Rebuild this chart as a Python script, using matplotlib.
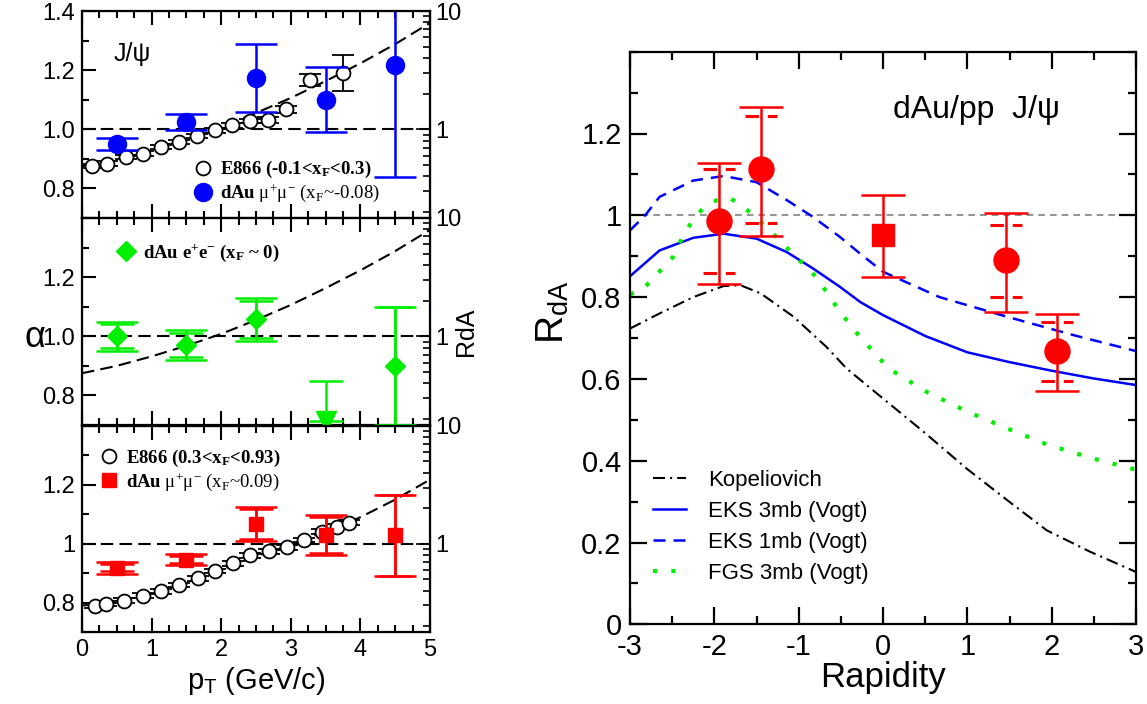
import numpy as np
import matplotlib
matplotlib.use("Agg")
import matplotlib.pyplot as plt
from matplotlib.ticker import MultipleLocator, FixedLocator, FixedFormatter, FuncFormatter, LogLocator, NullFormatter
from matplotlib.lines import Line2D

plt.rcParams["font.family"] = ["Liberation Sans", "DejaVu Sans"]
plt.rcParams["mathtext.fontset"] = "custom"
plt.rcParams["mathtext.rm"] = "Liberation Serif"
plt.rcParams["mathtext.bf"] = "Liberation Serif:bold"
plt.rcParams["mathtext.it"] = "Liberation Serif:italic"
plt.rcParams["mathtext.sf"] = "Liberation Sans"

# --- alpha vs pT, backward / mid rapidity (E866 -0.1<xF<0.3, dAu mu+mu-) ---
pt_e866_lo = [0.15, 0.36, 0.63, 0.88, 1.13, 1.39, 1.65, 1.91, 2.16, 2.41, 2.67, 2.93, 3.28, 3.75]
alpha_e866_lo = [0.876, 0.884, 0.906, 0.918, 0.940, 0.957, 0.977, 0.997, 1.014, 1.028, 1.031, 1.068, 1.166, 1.190]
err_e866_lo = [0.008, 0.008, 0.008, 0.008, 0.008, 0.008, 0.008, 0.008, 0.008, 0.008, 0.010, 0.012, 0.020, 0.060]

pt_dau = [0.5, 1.5, 2.5, 3.5, 4.5]
alpha_mumu_bwd = [0.951, 1.025, 1.172, 1.100, 1.217]
err_mumu_bwd = [0.020, 0.026, 0.115, 0.109, 0.379]

# curve drawn through the E866 points (same in top and middle panels)
pt_curve = [0.0, 0.5, 1.0, 1.5, 2.0, 2.5, 3.0, 3.5, 4.0, 4.5, 5.0]
alpha_curve_lo = [0.875, 0.900, 0.932, 0.968, 1.008, 1.055, 1.106, 1.163, 1.223, 1.288, 1.360]

# --- alpha vs pT, dAu e+e- at xF ~ 0 ---
pt_ee = [0.5, 1.5, 2.5, 4.5]
alpha_ee = [1.000, 0.970, 1.057, 0.900]
sys_ee = [0.050, 0.050, 0.072, 0.200]
stat_ee = [0.040, 0.040, 0.062, 0.200]
pt_ee_limit = [3.5]
alpha_ee_limit = [0.715]
top_ee_limit = [0.850]

# --- alpha vs pT, forward (E866 0.3<xF<0.93, dAu mu+mu- xF~0.09) ---
pt_e866_hi = [0.18, 0.34, 0.60, 0.87, 1.13, 1.39, 1.66, 1.91, 2.17, 2.42, 2.68, 2.94, 3.19, 3.45, 3.67, 3.83]
alpha_e866_hi = [0.790, 0.796, 0.807, 0.823, 0.838, 0.860, 0.882, 0.907, 0.933, 0.961, 0.974, 0.988, 1.013, 1.041, 1.058, 1.072]
err_e866_hi = [0.008] * 16
alpha_curve_hi = [0.790, 0.800, 0.828, 0.866, 0.912, 0.957, 0.997, 1.042, 1.090, 1.150, 1.218]

alpha_mumu_fwd = [0.918, 0.946, 1.067, 1.030, 1.028]
sys_mumu_fwd = [0.020, 0.020, 0.058, 0.068, 0.138]
stat_mumu_fwd = [0.012, 0.012, 0.050, 0.060, 0.138]

# --- R_dA vs rapidity ---
rap_data = [-1.94, -1.45, 0.0, 1.455, 2.06]
rda_data = [0.986, 1.112, 0.951, 0.890, 0.668]
sys_lo = [0.155, 0.163, 0.102, 0.126, 0.098]
sys_hi = [0.143, 0.153, 0.099, 0.116, 0.090]
stat_lo = [0.128, 0.132, np.nan, 0.090, 0.074]
stat_hi = [0.128, 0.132, np.nan, 0.087, 0.070]
is_square = [False, False, True, False, False]

rap_kop = [-3.0, -2.65, -2.25, -1.89, -1.69, -1.45, -1.06, -0.67, -0.43, 0.0, 0.48, 0.99, 1.47, 1.94, 2.46, 3.0]
rda_kop = [0.723, 0.760, 0.800, 0.827, 0.829, 0.809, 0.752, 0.678, 0.625, 0.552, 0.471, 0.381, 0.304, 0.230, 0.177, 0.128]

rap_eks3 = [-3.0, -2.65, -2.25, -1.89, -1.50, -1.14, -0.83, -0.51, -0.27, 0.0, 0.5, 1.0, 1.5, 2.0, 2.5, 3.0]
rda_eks3 = [0.851, 0.914, 0.945, 0.955, 0.943, 0.910, 0.870, 0.825, 0.788, 0.756, 0.705, 0.665, 0.641, 0.620, 0.601, 0.585]

rap_eks1 = [-3.0, -2.82, -2.65, -2.25, -1.89, -1.50, -1.14, -0.83, -0.51, -0.27, 0.0, 0.67, 1.47, 2.26, 3.0]
rda_eks1 = [0.963, 1.000, 1.045, 1.085, 1.096, 1.081, 1.037, 0.996, 0.947, 0.906, 0.862, 0.800, 0.752, 0.707, 0.668]

rap_fgs = [-3.0, -2.82, -2.49, -2.34, -2.13, -1.97, -1.81, -1.68, -1.54, -1.30, -1.04, -0.79, -0.51, -0.29, 0.07, 0.52, 0.99, 1.47, 1.94, 2.46, 3.0]
rda_fgs = [0.806, 0.825, 0.898, 0.963, 1.019, 1.037, 1.042, 1.023, 1.002, 0.954, 0.900, 0.849, 0.764, 0.707, 0.625, 0.568, 0.521, 0.479, 0.440, 0.407, 0.378]

BLUE, GREEN, RED = "#0000ff", "#00ee00", "#ff0000"
DASH = (0, (6, 3))
LEG_FONT = {"family": "Liberation Serif", "size": 13.5}

fig = plt.figure(figsize=(11.47, 7.04), dpi=100)


def alpha_panel(rect, labels, show_x=False):
    ax = fig.add_axes(rect)
    ax.set_xlim(0, 5)
    ax.set_ylim(0.7, 1.4)
    ax.xaxis.set_major_locator(MultipleLocator(1))
    ax.xaxis.set_minor_locator(MultipleLocator(0.25))
    ax.yaxis.set_major_locator(FixedLocator([0.8, 1.0, 1.2, 1.4]))
    ax.yaxis.set_major_formatter(FixedFormatter(labels))
    ax.yaxis.set_minor_locator(MultipleLocator(0.1))
    ax.tick_params(which="both", direction="in", top=True, right=True, width=1.5,
                   labelsize=17, labelbottom=show_x)
    ax.tick_params(which="major", length=10, pad=5)
    ax.tick_params(which="minor", length=5)
    for s in ax.spines.values():
        s.set_linewidth(1.6)
    ax.axhline(1.0, color="k", ls=DASH, lw=1.5, zorder=1)

    rd = ax.twinx()
    rd.set_yscale("log")
    rd.set_ylim(10 ** -0.75, 10)
    rd.yaxis.set_major_locator(FixedLocator([1, 10]))
    rd.yaxis.set_major_formatter(FuncFormatter(lambda v, p: "%g" % v))
    rd.yaxis.set_minor_locator(LogLocator(subs=np.arange(2, 10)))
    rd.yaxis.set_minor_formatter(NullFormatter())
    rd.tick_params(which="both", direction="in", width=1.2, labelsize=17)
    rd.tick_params(which="major", length=10, pad=4)
    rd.tick_params(which="minor", length=5)
    return ax


h = 207 / 704
ax1 = alpha_panel([0.0715, 1 - 218 / 704, 0.3034, h], ["0.8", "1.0", "1.2", "1.4"])
ax2 = alpha_panel([0.0715, 1 - 425 / 704, 0.3034, h], ["0.8", "1.0", "1.2", ""])
ax3 = alpha_panel([0.0715, 1 - 632 / 704, 0.3034, 206 / 704], ["0.8", "1", "1.2", ""], show_x=True)

# top panel
ax1.plot(pt_curve, alpha_curve_lo, color="k", ls=DASH, lw=1.5, zorder=2)
ax1.errorbar(pt_e866_lo, alpha_e866_lo, yerr=err_e866_lo, fmt="o", ms=10, mfc="white",
             mec="k", mew=1.3, ecolor="k", elinewidth=1.3, capsize=8, capthick=1.3, zorder=3)
ax1.errorbar(pt_dau, alpha_mumu_bwd, yerr=err_mumu_bwd, fmt="o", ms=13, color=BLUE,
             elinewidth=1.8, capsize=15, capthick=1.8, zorder=4)
ax1.text(0.45, 1.255, "J/ψ", fontsize=18, va="center")
ax1.legend(handles=[
    Line2D([], [], ls="none", marker="o", ms=10, mfc="white", mec="k", mew=1.3),
    Line2D([], [], ls="none", marker="o", ms=13, color=BLUE)],
    labels=[r"E866 (-0.1<x$_\mathbf{F}$<0.3)",
            r"$\mathbf{dAu}\ \mathrm{\mu}^{+}\mathrm{\mu}^{-}$ (x$_\mathrm{F}$~-0.08)"],
    loc="center left", bbox_to_anchor=(0.32, 0.175), frameon=False, handlelength=1.0,
    handletextpad=0.4, labelspacing=0.1, borderpad=0, borderaxespad=0, prop=LEG_FONT)
ax1.get_legend().get_texts()[0].set_fontweight("bold")

# middle panel
ax2.plot(pt_curve, alpha_curve_lo, color="k", ls=DASH, lw=1.5, zorder=2)
ax2.errorbar(pt_ee, alpha_ee, yerr=sys_ee, fmt="D", ms=10, color=GREEN,
             elinewidth=1.8, capsize=15, capthick=1.8, zorder=4)
ax2.errorbar(pt_ee, alpha_ee, yerr=stat_ee, fmt="none", ecolor=GREEN,
             elinewidth=1.8, capsize=12, capthick=1.8, zorder=4)
ax2.errorbar(pt_ee_limit, alpha_ee_limit,
             yerr=[[0], np.subtract(top_ee_limit, alpha_ee_limit)], fmt="v", ms=14,
             color=GREEN, elinewidth=1.8, capsize=12, capthick=1.8, zorder=4)
ax2.legend(handles=[Line2D([], [], ls="none", marker="D", ms=10, color=GREEN)],
           labels=[r"dAu e$^{\mathbf{+}}$e$^{\mathbf{-}}$ (x$_\mathbf{F}$ ~ 0)"],
           loc="center left", bbox_to_anchor=(0.1, 0.83), frameon=False, handlelength=1.0,
           handletextpad=0.4, borderpad=0, borderaxespad=0,
           prop=dict(LEG_FONT, weight="bold"))

# bottom panel
ax3.plot(pt_curve, alpha_curve_hi, color="k", ls=DASH, lw=1.5, zorder=2)
ax3.errorbar(pt_e866_hi, alpha_e866_hi, yerr=err_e866_hi, fmt="o", ms=10, mfc="white",
             mec="k", mew=1.3, ecolor="k", elinewidth=1.3, capsize=8, capthick=1.3, zorder=3)
ax3.errorbar(pt_dau, alpha_mumu_fwd, yerr=sys_mumu_fwd, fmt="s", ms=10, color=RED,
             elinewidth=1.8, capsize=15, capthick=1.8, zorder=4)
ax3.errorbar(pt_dau, alpha_mumu_fwd, yerr=stat_mumu_fwd, fmt="none", ecolor=RED,
             elinewidth=1.8, capsize=12, capthick=1.8, zorder=4)
ax3.legend(handles=[
    Line2D([], [], ls="none", marker="o", ms=10, mfc="white", mec="k", mew=1.3),
    Line2D([], [], ls="none", marker="s", ms=10, color=RED)],
    labels=[r"E866 (0.3<x$_\mathbf{F}$<0.93)",
            r"$\mathbf{dAu}\ \mathrm{\mu}^{+}\mathrm{\mu}^{-}$ (x$_\mathrm{F}$~0.09)"],
    loc="center left", bbox_to_anchor=(0.05, 0.785), frameon=False, handlelength=1.0,
    handletextpad=0.4, labelspacing=0.1, borderpad=0, borderaxespad=0, prop=LEG_FONT)
ax3.get_legend().get_texts()[0].set_fontweight("bold")
ax3.xaxis.set_major_formatter(FuncFormatter(lambda v, p: "%d" % v))
ax3.set_xlabel(r"p$_\mathsf{T}$ (GeV/c)", fontsize=21, labelpad=3)

fig.text(35 / 1147, 1 - 337 / 704, "α", fontsize=26, ha="center", va="center")
fig.text(466 / 1147, 1 - 332 / 704, "RdA", fontsize=18, rotation=90, ha="center", va="center")

# right panel: R_dA vs rapidity
axr = fig.add_axes([630 / 1147, 1 - 624.3 / 704, 506 / 1147, 572.6 / 704])
axr.set_xlim(-3, 3)
axr.set_ylim(0, 1.4)
axr.xaxis.set_major_locator(MultipleLocator(1))
axr.xaxis.set_minor_locator(MultipleLocator(0.5))
axr.yaxis.set_major_locator(FixedLocator([0, 0.2, 0.4, 0.6, 0.8, 1.0, 1.2]))
axr.yaxis.set_minor_locator(MultipleLocator(0.1))
fmt_g = FuncFormatter(lambda v, p: "%g" % round(v, 2))
axr.xaxis.set_major_formatter(fmt_g)
axr.yaxis.set_major_formatter(fmt_g)
axr.tick_params(which="both", direction="in", top=True, right=True, width=1.6, labelsize=21)
axr.tick_params(which="major", length=12, pad=6)
axr.tick_params(which="minor", length=6)
for s in axr.spines.values():
    s.set_linewidth(1.6)

axr.axhline(1.0, color="#808080", ls=(0, (4, 3)), lw=1.2, zorder=1)
axr.plot(rap_kop, rda_kop, color="k", lw=1.5, ls=(0, (5.8, 2.4, 1, 2.4)), label="Kopeliovich")
axr.plot(rap_eks3, rda_eks3, color=BLUE, lw=1.8, label="EKS 3mb (Vogt)")
axr.plot(rap_eks1, rda_eks1, color=BLUE, lw=1.8, ls=(0, (4.8, 3.2)), label="EKS 1mb (Vogt)")
axr.plot(rap_fgs, rda_fgs, color=GREEN, lw=3, ls=(0, (1, 3.4)), label="FGS 3mb (Vogt)")

rap = np.array(rap_data)
rda = np.array(rda_data)
sq = np.array(is_square)
for mask, mk, size in [(~sq, "o", 18), (sq, "s", 16)]:
    axr.errorbar(rap[mask], rda[mask],
                 yerr=[np.array(sys_lo)[mask], np.array(sys_hi)[mask]],
                 fmt=mk, ms=size, color=RED, elinewidth=1.8, capsize=16, capthick=1.8, zorder=5)
# dashed caps for the statistical errors
slo, shi = np.array(stat_lo), np.array(stat_hi)
ok = ~np.isnan(slo)
for yv in (rda[ok] - slo[ok], rda[ok] + shi[ok]):
    axr.hlines(yv, rap[ok] - 0.19, rap[ok] + 0.19, colors=RED, lw=2.2,
               linestyles=(0, (4.4, 2.9)), zorder=5)

axr.text(0.52, 0.898, "dAu/pp  J/ψ", transform=axr.transAxes, fontsize=23, va="center")
axr.legend(loc="lower left", bbox_to_anchor=(0.045, 0.07), frameon=False, fontsize=16,
           handlelength=1.5, handletextpad=1.0, labelspacing=0.45, borderpad=0, borderaxespad=0)
axr.set_xlabel("Rapidity", fontsize=25, labelpad=0)
fig.text(553 / 1147, 1 - 312 / 704, r"R$_\mathsf{dA}$", fontsize=28, rotation=90,
         ha="center", va="center")

fig.savefig("out.png", dpi=100)
